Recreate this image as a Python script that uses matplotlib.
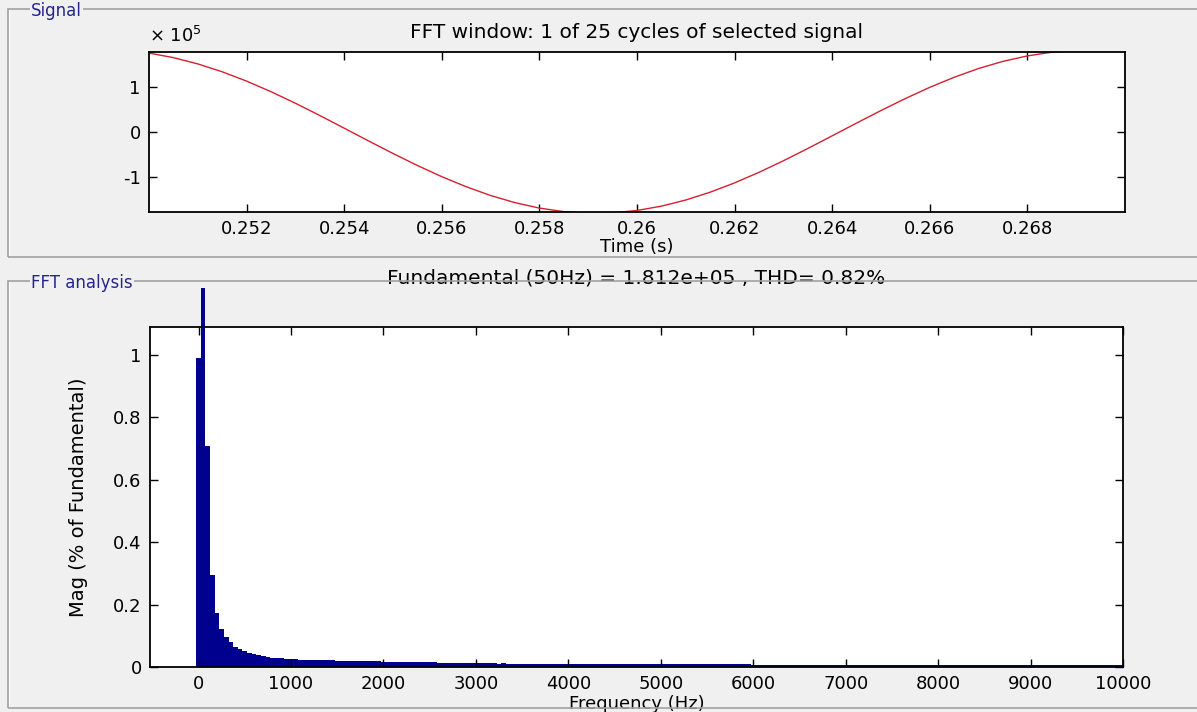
import matplotlib
matplotlib.use("Agg")
import matplotlib.pyplot as plt
from matplotlib.patches import Rectangle

# ---------------- data ----------------
# Signal window (time in s, value in units of 1e5)
signal_t = [0.2500, 0.2505, 0.2510, 0.2515, 0.2520, 0.2525, 0.2530, 0.2535, 0.2540, 0.2545,
            0.2550, 0.2555, 0.2560, 0.2565, 0.2570, 0.2575, 0.2580, 0.2585, 0.2590, 0.2595,
            0.2600, 0.2605, 0.2610, 0.2615, 0.2620, 0.2625, 0.2630, 0.2635, 0.2640, 0.2645,
            0.2650, 0.2655, 0.2660, 0.2665, 0.2670, 0.2675, 0.2680, 0.2685, 0.2690, 0.2695,
            0.2700]
signal_v = [1.756, 1.655, 1.515, 1.340, 1.132, 0.897, 0.640, 0.367, 0.085, -0.199,
            -0.478, -0.745, -0.994, -1.218, -1.413, -1.572, -1.693, -1.772, -1.808, -1.799,
            -1.746, -1.650, -1.513, -1.339, -1.132, -0.897, -0.640, -0.367, -0.085, 0.199,
            0.478, 0.745, 0.994, 1.218, 1.413, 1.572, 1.693, 1.775, 1.810, 1.815,
            1.810]
SIGNAL_SCALE = 1e5

# FFT spectrum: frequency bins (Hz) and magnitude (% of fundamental)
freq_step = 50
mag = [
    0.990, 100.0, 0.710, 0.295, 0.174, 0.123, 0.095, 0.079, 0.065, 0.057,   # 0-450
    0.050, 0.046, 0.041, 0.037, 0.034, 0.033, 0.030, 0.029, 0.028, 0.027,   # 500-950
    0.026, 0.025, 0.024, 0.024, 0.023, 0.023, 0.022, 0.022, 0.021, 0.021,   # 1000-1450
    0.020, 0.020, 0.020, 0.019, 0.019, 0.019, 0.019, 0.018, 0.018, 0.018,   # 1500-1950
    0.017, 0.017, 0.017, 0.016, 0.016, 0.016, 0.016, 0.016, 0.015, 0.015,   # 2000-2450
    0.015, 0.015, 0.013, 0.013, 0.013, 0.013, 0.012, 0.012, 0.012, 0.012,   # 2500-2950
    0.012, 0.012, 0.012, 0.012, 0.012, 0.011, 0.012, 0.011, 0.011, 0.011,   # 3000-3450
    0.011, 0.011, 0.011, 0.011, 0.011, 0.011, 0.011, 0.011, 0.011, 0.011,   # 3500-3950
    0.011, 0.011, 0.010, 0.011, 0.010, 0.010, 0.010, 0.010, 0.010, 0.010,   # 4000-4450
    0.010, 0.010, 0.010, 0.010, 0.010, 0.010, 0.010, 0.010, 0.010, 0.010,   # 4500-4950
    0.010, 0.010, 0.010, 0.010, 0.010, 0.010, 0.010, 0.010, 0.010, 0.010,   # 5000-5450
    0.010, 0.010, 0.010, 0.010, 0.010, 0.010, 0.010, 0.010, 0.009, 0.009,   # 5500-5950
    0.008, 0.008, 0.008, 0.008, 0.008, 0.008, 0.008, 0.008, 0.008, 0.008,   # 6000-6450
    0.008, 0.007, 0.007, 0.007, 0.007, 0.007, 0.007, 0.007, 0.007, 0.007,   # 6500-6950
    0.007, 0.007, 0.007, 0.007, 0.007, 0.007, 0.007, 0.007, 0.007, 0.007,   # 7000-7450
    0.007, 0.007, 0.007, 0.007, 0.007, 0.007, 0.007, 0.006, 0.006, 0.006,   # 7500-7950
    0.006, 0.006, 0.006, 0.006, 0.006, 0.006, 0.006, 0.006, 0.006, 0.006,   # 8000-8450
    0.006, 0.006, 0.006, 0.006, 0.006, 0.006, 0.006, 0.006, 0.006, 0.006,   # 8500-8950
    0.006, 0.006, 0.006, 0.006, 0.006, 0.006, 0.006, 0.006, 0.006, 0.006,   # 9000-9450
    0.006, 0.006, 0.006, 0.006, 0.006, 0.006, 0.006, 0.006, 0.006, 0.006,   # 9500-9950
    0.006,                                                                  # 10000
]
freqs = [i * freq_step for i in range(len(mag))]

time_ticks = [0.252, 0.254, 0.256, 0.258, 0.260, 0.262, 0.264, 0.266, 0.268]
time_tick_labels = ["0.252", "0.254", "0.256", "0.258", "0.26", "0.262", "0.264", "0.266", "0.268"]
sig_yticks = [-1e5, 0, 1e5]
sig_ytick_labels = ["-1", "0", "1"]
freq_ticks = [0, 1000, 2000, 3000, 4000, 5000, 6000, 7000, 8000, 9000, 10000]
mag_ticks = [0, 0.2, 0.4, 0.6, 0.8, 1.0]
mag_tick_labels = ["0", "0.2", "0.4", "0.6", "0.8", "1"]

title_signal = "FFT window: 1 of 25 cycles of selected signal"
title_fft = "Fundamental (50Hz) = 1.812e+05 , THD= 0.82%"

# ---------------- figure ----------------
W, H = 1197, 712
BG = "#f0f0f0"
plt.rcParams["font.family"] = ["DejaVu Sans"]
plt.rcParams["axes.unicode_minus"] = False
fig = plt.figure(figsize=(W / 100, H / 100), dpi=100, facecolor=BG)


def fx(px):
    return px / W


def fy(py):
    return 1 - py / H


def axes_rect(left, top, right, bottom):
    return [fx(left), fy(bottom), (right - left) / W, (bottom - top) / H]


# panels
def panel(left, top, right, bottom, label):
    fig.add_artist(Rectangle((fx(left), fy(bottom)), (right - left) / W, (bottom - top) / H,
                             transform=fig.transFigure, fill=False,
                             edgecolor="#a0a0a0", linewidth=1.2))
    fig.add_artist(Rectangle((fx(left + 1), fy(bottom - 1)), (right - left) / W, (bottom - top) / H,
                             transform=fig.transFigure, fill=False,
                             edgecolor="#ffffff", linewidth=0.8, zorder=0))
    fig.text(fx(left + 23), fy(top + 2), label, color="#24248f", fontsize=12,
             ha="left", va="center",
             bbox=dict(facecolor=BG, edgecolor="none", pad=1.0))


panel(8, 9, 1215, 257, "Signal")
panel(8, 281, 1215, 708, "FFT analysis")

FS = 13        # tick labels / axis labels
TFS = 14.5     # titles

# ---- top: signal ----
ax1 = fig.add_axes(axes_rect(149, 52, 1125, 212))
ax1.set_facecolor("white")
ax1.plot(signal_t, [v * SIGNAL_SCALE for v in signal_v], color="#d42030", linewidth=1.0)
ax1.set_xlim(0.25, 0.27)
ax1.set_ylim(-1.78e5, 1.78e5)
ax1.set_xticks(time_ticks)
ax1.set_xticklabels(time_tick_labels)
ax1.set_yticks(sig_yticks)
ax1.set_yticklabels(sig_ytick_labels)
ax1.text(0.0, 1.04, r"$\times$ 10$^5$", transform=ax1.transAxes, fontsize=FS,
         ha="left", va="bottom")
ax1.set_title(title_signal, fontsize=TFS, pad=10)
ax1.set_xlabel("Time (s)", fontsize=FS, labelpad=0)

# ---- bottom: FFT ----
ax2 = fig.add_axes(axes_rect(150, 327, 1123, 667))
ax2.set_facecolor("white")
bars = ax2.bar(freqs, mag, width=freq_step, color="#00008f", edgecolor="none", align="center")
ax2.set_xlim(-525, 10000)
ax2.set_ylim(0, 1.09)
# the fundamental bar spills above the axes up to ~1.215 in the original
fund = bars[1]
fund.set_clip_path(Rectangle((-525, 0), 10525, 1.215, transform=ax2.transData))
ax2.set_xticks(freq_ticks)
ax2.set_yticks(mag_ticks)
ax2.set_yticklabels(mag_tick_labels)
ax2.set_title(title_fft, fontsize=TFS, pad=31)
ax2.set_xlabel("Frequency (Hz)", fontsize=FS, labelpad=1)
ax2.set_ylabel("Mag (% of Fundamental)", fontsize=FS + 1, labelpad=18)

for ax in (ax1, ax2):
    ax.tick_params(direction="in", top=True, right=True, length=6, width=1.0,
                   labelsize=FS, pad=6, colors="black")
    for s in ax.spines.values():
        s.set_linewidth(1.3)
        s.set_color("black")

fig.savefig("out.png", dpi=100, facecolor=BG)
